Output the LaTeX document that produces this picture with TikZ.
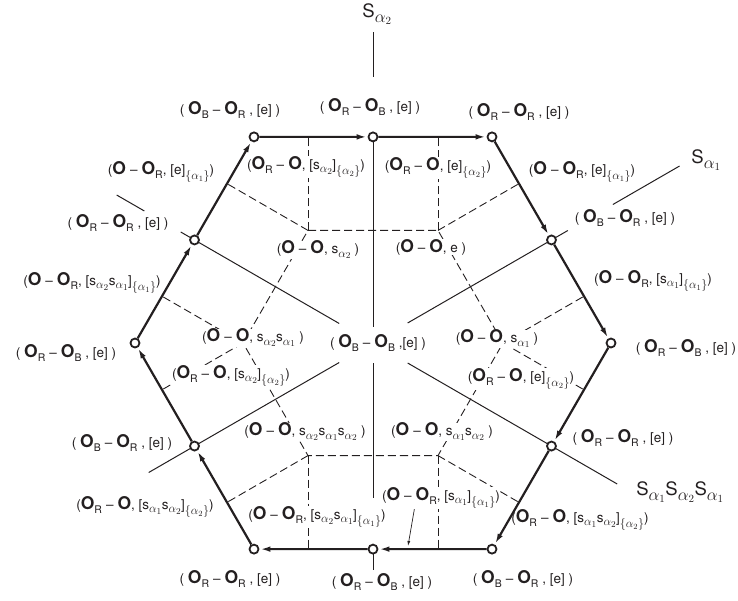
\documentclass[tikz,border=0pt]{standalone}
\usepackage{fontspec}
\setmainfont{TeX Gyre Heros}
\usepackage{tikz}
\usetikzlibrary{calc,arrows.meta}
\definecolor{ink}{HTML}{231F20}
\newcommand{\ring}{{\fontsize{17.5}{17}\selectfont\bfseries O}}
\newcommand{\lsub}[1]{\raisebox{-0.6ex}{\fontsize{10.5}{10}\selectfont #1}}
\newcommand{\oR}{\ring\lsub{R}}
\newcommand{\dsh}{\hspace{4pt}--\hspace{4pt}}
\newcommand{\sa}[1]{s\raisebox{-0.45ex}{\fontsize{13}{13}\selectfont$\alpha_{#1}$}}
\newcommand{\ix}[1]{\raisebox{-0.7ex}{\fontsize{12}{12}\selectfont$\{\alpha_{#1}\}$}}
\newcommand{\bigS}[1]{S\raisebox{-0.5ex}{\fontsize{16}{16}\selectfont$\alpha_{#1}$}}
\tikzset{
  wall/.style={draw=ink, line width=1pt},
  dual/.style={draw=ink, line width=0.9pt, dash pattern=on 8pt off 4pt},
  bdry/.style={draw=ink, line width=2.2pt, -{Latex[length=11pt,width=5.5pt]}},
  vtx/.style={circle, draw=ink, fill=white, line width=1.8pt, minimum size=9pt, inner sep=0pt},
  lab/.style={text=ink, fill=white, inner sep=0.5pt, font=\fontsize{13.5}{15}\selectfont},
  big/.style={text=ink, font=\fontsize{18.5}{20}\selectfont},
  ptr/.style={draw=ink, line width=0.7pt, -{Latex[length=5pt,width=3pt]}},
}

\begin{document}
\begin{tikzpicture}[x=1pt,y=1pt]
  \useasboundingbox (-373,-257) rectangle (365,343);
  % chamber centres and the dual graph
  \foreach \k in {0,...,5} \coordinate (p\k) at ({60*\k}:130);
  \draw[dual] (p0)--(p1)--(p2)--(p3)--(p4)--(p5)--cycle;
  \foreach \k in {0,...,5} {
    \draw[dual] (p\k) -- ++({60*\k+30}:93.4);
    \draw[dual] (p\k) -- ++({60*\k-30}:93.4);
  }
  % reflecting walls
  \draw[wall] (90:266) -- (90:311) (90:206) -- (90:16) (270:20) -- (270:155) (270:206) -- (270:227);
  \draw[wall] (30:277) -- (30:354) (30:225) -- (30:40) (210:39) -- (210:259);
  \draw[wall] (150:264) -- (150:296) (150:222) -- (150:39) (330:40) -- (330:282);
  \node[big] (Sa2) at (4,329) {\bigS{2}};
  \node[big] (Sa1) at (333,183) {\bigS{1}};
  \node[big] (Sa121) at (307,-149) {\bigS{1}\bigS{2}\bigS{1}};

  % vertex labels
  \foreach \X/\x/\y/\u/\v in {c2/-143/233/B/R, m1/-3/236/R/B, c1/146/231/R/R,
      m0/252/125/B/R, c0/313/-5/R/B, m5/250/-95/R/R, c5/150/-236/B/R,
      m4/9/-239/R/B, c4/-143/-236/R/R, m3/-251/-100/B/R, c3/-307/-10/R/B,
      m2/-255/120/R/R}
    \node[lab] (L\X) at (\x,\y) {( \ring\lsub{\u}\dsh\ring\lsub{\v} , [e] )};
  \node[lab] (Lo) at (5,0) {( \ring\lsub{B}\dsh\ring\lsub{B} ,[e] )};

  % edge labels
  \node[lab] (e13) at (-212,171) {(\ring\dsh\oR , [e]\ix{1})};
  \node[lab] (e14) at (-67,176) {(\oR\dsh\ring, [\sa{2}]\ix{2})};
  \node[lab] (e15) at (65,175) {(\oR\dsh\ring, [e]\ix{2})};
  \node[lab] (e16) at (209,171) {(\ring\dsh\oR , [e]\ix{1})};
  \node[lab] (e17) at (280,62) {(\ring\dsh\oR , [\sa{1}]\ix{1})};
  \node[lab] (e18) at (148,-36) {(\oR\dsh\ring, [e]\ix{2})};
  \node[lab] (e19) at (207,-177) {(\oR\dsh\ring, [\sa{1}\sa{2}]\ix{2})};
  \node[lab] (e20) at (68,-155) {(\ring\dsh\oR , [\sa{1}]\ix{1})};
  \node[lab] (e21) at (-56,-174) {(\ring\dsh\oR , [\sa{2}\sa{1}]\ix{1})};
  \node[lab] (e22) at (-228,-164) {(\oR\dsh\ring, [\sa{1}\sa{2}]\ix{2})};
  \node[lab] (e23) at (-142,-33) {(\oR\dsh\ring, [\sa{2}]\ix{2})};
  \node[lab] (e24) at (-281,60) {(\ring\dsh\oR , [\sa{2}\sa{1}]\ix{1})};
  \coordinate (hit) at (35,-203);
  \draw[ptr] ([xshift=33pt]e20.south west) -- (hit);

  % chamber labels
  \node[lab] (ch0) at (58,96) {(\ring\dsh\ring , e )};
  \node[lab] (ch1) at (-55,93) {(\ring\dsh\ring , \sa{2} )};
  \node[lab] (ch2) at (-120,5) {(\ring\dsh\ring , \sa{2}\sa{1} )};
  \node[lab] (ch3) at (-68,-89) {(\ring\dsh\ring , \sa{2}\sa{1}\sa{2} )};
  \node[lab] (ch4) at (69,-89) {(\ring\dsh\ring , \sa{1}\sa{2} )};
  \node[lab] (ch5) at (124,4) {(\ring\dsh\ring , \sa{1} )};

  % the hexagon, walked clockwise
  \foreach \X/\a in {c0/0,c1/60,c2/120,c3/180,c4/240,c5/300}
    \node[vtx] (\X) at (\a:238) {};
  \foreach \X/\a in {m0/30,m1/90,m2/150,m3/210,m4/270,m5/330}
    \node[vtx] (\X) at (\a:206.1) {};
  \foreach \p/\q in {c2/m1,m1/c1,c1/m0,m0/c0,c0/m5,m5/c5,c5/m4,m4/c4,c4/m3,m3/c3,c3/m2,m2/c2}
    \draw[bdry] (\p) -- (\q);
\end{tikzpicture}
\end{document}
